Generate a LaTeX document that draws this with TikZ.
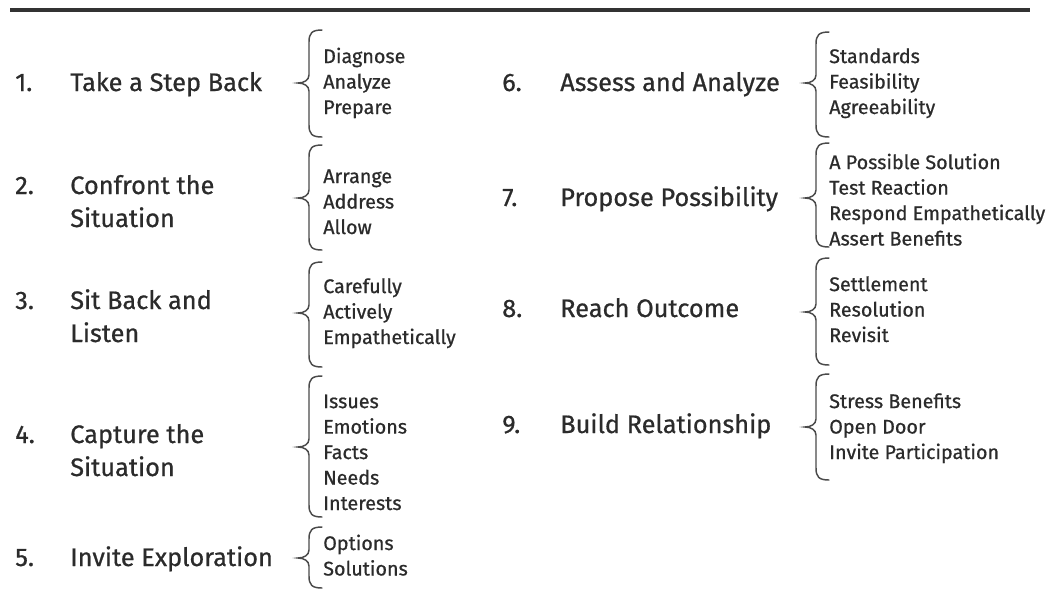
\documentclass[tikz,border=0pt]{standalone}
\usepackage{fontspec}
\setmainfont{Fira Sans}[UprightFeatures={FakeBold=0.7}]
\definecolor{ink}{HTML}{2B2B2B}
\definecolor{bracegray}{HTML}{4A4A4A}
\definecolor{rulegray}{HTML}{333333}
% curly brace: #1 tip x, #2 top y, #3 tip y, #4 bottom y (pixel units, y down)
\newcommand\curlyat[4]{%
  \draw[bracestroke] (#1+24,#2) .. controls (#1+14,#2) and (#1+11,#2+3) .. (#1+11,#2+12)
    -- (#1+11,#3-8) .. controls (#1+11,#3-3) and (#1+6,#3) .. (#1,#3)
    .. controls (#1+6,#3) and (#1+11,#3+3) .. (#1+11,#3+8)
    -- (#1+11,#4-12) .. controls (#1+11,#4-3) and (#1+14,#4) .. (#1+24,#4);}
\begin{document}
% multi-line nodes are placed by the baseline of their last line
\begin{tikzpicture}[x=0.75pt,y=-0.75pt,
  num/.style={anchor=base west, inner sep=0pt, text=ink, font=\fontsize{19}{24.75}\selectfont},
  title/.style={anchor=base west, inner sep=0pt, text=ink, align=left, font=\fontsize{19}{24.75}\selectfont},
  items/.style={anchor=base west, inner sep=0pt, text=ink, align=left, font=\fontsize{14.8}{19.1}\selectfont},
  bracestroke/.style={draw=bracegray, line width=1.1pt, line cap=round}]
\useasboundingbox (0,0) rectangle (1054,601);
\draw[line width=2.4pt, draw=rulegray] (10,10) -- (1030,10);

% left column
\node[num] (n1) at (15,91) {1.};
\node[title] (t1) at (70,91) {Take a Step Back};
\curlyat{298}{30}{83}{137}
\node[items] (i1) at (323,114) {Diagnose\\Analyze\\Prepare};

\node[num] (n2) at (15,194) {2.};
\node[title] (t2) at (70,227) {Confront the\\Situation};
\curlyat{298}{145}{198}{250}
\node[items] (i2) at (323,234) {Arrange\\Address\\Allow};

\node[num] (n3) at (15,309) {3.};
\node[title] (t3) at (70,342) {Sit Back and\\Listen};
\curlyat{298}{262}{313}{367}
\node[items] (i3) at (323,344) {Carefully\\Actively\\Empathetically};

\node[num] (n4) at (15,443) {4.};
\node[title] (t4) at (70,476) {Capture the\\Situation};
\curlyat{298}{376}{447}{517}
\node[items] (i4) at (323,510) {Issues\\Emotions\\Facts\\Needs\\Interests};

\node[num] (n5) at (15,566) {5.};
\node[title] (t5) at (70,566) {Invite Exploration};
\curlyat{298}{527}{558}{588}
\node[items] (i5) at (323,575.5) {Options\\Solutions};

% right column
\node[num] (n6) at (502,91) {6.};
\node[title] (t6) at (560,91) {Assess and Analyze};
\curlyat{805}{32}{83}{137}
\node[items] (i6) at (829,114) {Standards\\Feasibility\\Agreeability};

\node[num] (n7) at (502,206) {7.};
\node[title] (t7) at (560,206) {Propose Possibility};
\curlyat{805}{143}{198}{247}
\node[items] (i7) at (829,245.5) {A Possible Solution\\Test Reaction\\Respond Empathetically\\Assert Benefits};

\node[num] (n8) at (502,317) {8.};
\node[title] (t8) at (560,317) {Reach Outcome};
\curlyat{805}{258}{312}{365}
\node[items] (i8) at (829,342) {Settlement\\Resolution\\Revisit};

\node[num] (n9) at (502,433) {9.};
\node[title] (t9) at (560,433) {Build Relationship};
\curlyat{805}{374}{427}{480}
\node[items] (i9) at (829,459) {Stress Benefits\\Open Door\\Invite Participation};
\end{tikzpicture}
\end{document}
